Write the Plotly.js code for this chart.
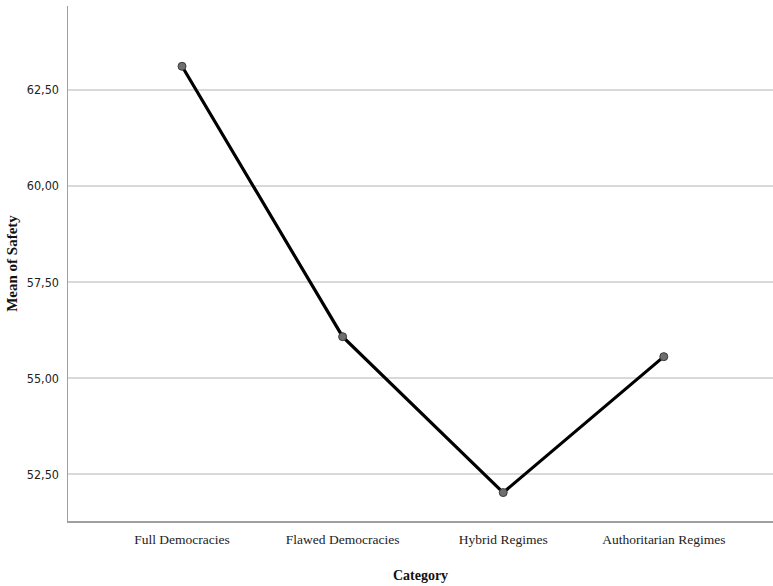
<!DOCTYPE html>
<html>
<head>
<meta charset="utf-8">
<script src="https://cdn.plot.ly/plotly-3.0.1.min.js"></script>
<style>html,body{margin:0;padding:0;background:#fff;}#chart{width:773px;height:586px;}</style>
</head>
<body>
<div id="chart"></div>
<script>
const categories = ["Full Democracies", "Flawed Democracies", "Hybrid Regimes", "Authoritarian Regimes"];
const meanSafety = [63.12, 56.08, 52.02, 55.56];
const yTicks = [52.5, 55.0, 57.5, 60.0, 62.5];

const trace = {
  x: categories,
  y: meanSafety,
  type: "scatter",
  mode: "lines+markers",
  line: {color: "#000000", width: 3.2},
  marker: {size: 8, color: "#6e6e6e", line: {color: "#3a3a3a", width: 1}},
  hoverinfo: "skip"
};

const layout = {
  width: 773, height: 586,
  margin: {l: 68, r: 0, t: 6, b: 65},
  paper_bgcolor: "#ffffff", plot_bgcolor: "#ffffff",
  separators: ",.",
  showlegend: false,
  xaxis: {
    type: "category",
    range: [-0.71, 3.68],
    showgrid: false, zeroline: false,
    showline: true, linecolor: "#a0a0a0", linewidth: 1.5,
    ticks: "", ticklabelstandoff: 5,
    tickfont: {family: "Liberation Serif, DejaVu Serif", size: 13.5, color: "#222"},
    title: {text: "Category", standoff: 24, font: {family: "Liberation Serif", size: 14, color: "#111", weight: "bold"}}
  },
  yaxis: {
    range: [51.28, 64.69],
    tickvals: yTicks, tickformat: ".2f",
    showgrid: true, gridcolor: "#d9d9d9", gridwidth: 2,
    zeroline: false,
    showline: true, linecolor: "#a0a0a0", linewidth: 1.5,
    ticks: "", ticklabelstandoff: 5,
    tickfont: {family: "DejaVu Sans Condensed, Liberation Sans Narrow", size: 12.5, color: "#222"},
    title: {text: "Mean of Safety", standoff: 5, font: {family: "Liberation Serif", size: 15, color: "#111", weight: "bold"}}
  }
};

Plotly.newPlot("chart", [trace], layout, {displayModeBar: false, staticPlot: true});
</script>
</body>
</html>
